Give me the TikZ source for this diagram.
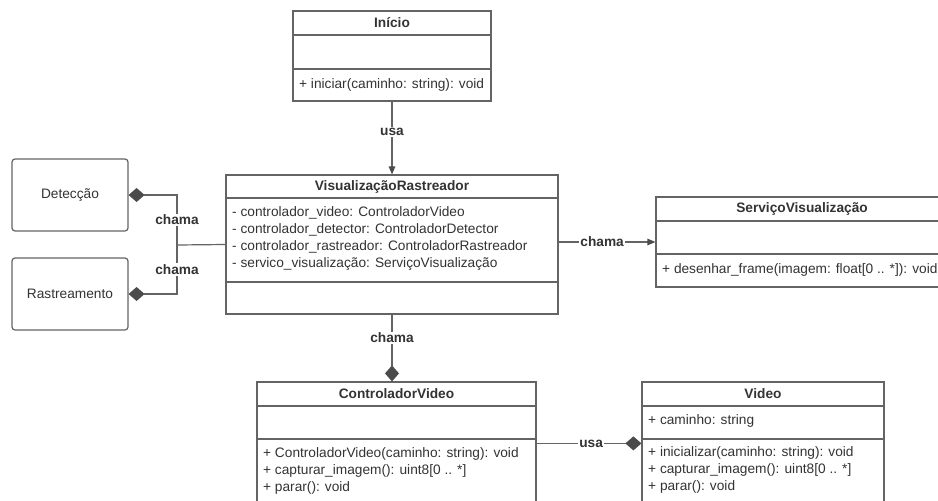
\documentclass[tikz,border=0pt]{standalone}
\usepackage{fontspec}
\setmainfont{Liberation Sans}
\usetikzlibrary{arrows.meta,calc}
\definecolor{edge}{RGB}{100,100,100}
\definecolor{ink}{RGB}{51,51,51}
\definecolor{tipfill}{RGB}{75,75,75}
\tikzset{
  every node/.style={font=\fontsize{13.7}{17}\selectfont, text=ink},
  classbox/.style={draw=edge, line width=1.2pt, fill=white, inner sep=0pt},
  plainbox/.style={draw=edge, line width=1.2pt, rounded corners=3pt, fill=white,
    inner sep=0pt, minimum width=116pt, minimum height=72pt},
  divider/.style={draw=edge, line width=1.2pt},
  title/.style={font=\bfseries\fontsize{13.7}{17}\selectfont, inner sep=0pt},
  member/.style={anchor=west, inner sep=0pt, text height=9.5pt, text depth=2.5pt},
  link/.style={draw=edge, line width=1.2pt},
  lbl/.style={font=\bfseries\fontsize{13.7}{17}\selectfont, fill=white, inner sep=1pt},
  toarrow/.style={link, -{Triangle[length=8pt,width=6.5pt,color=tipfill]}},
  todiamond/.style={link, -{Diamond[length=16pt,width=14pt,color=tipfill]}},
}
\begin{document}
\begin{tikzpicture}[x=1pt,y=-1pt]
\useasboundingbox (0,0) rectangle (938,501);
\clip (0,0) rectangle (938,501);
\fill[white] (0,0) rectangle (938,501);

% ---- Início ----
\node[classbox, minimum width=198pt, minimum height=90pt] (inicio) at (392,56) {};
\draw[divider] (inicio.west |- 0,35) -- (inicio.east |- 0,35);
\draw[divider] (inicio.west |- 0,69) -- (inicio.east |- 0,69);
\node[title] (inicioT) at (392,23) {Início};
\node[member] (inicioM1) at (299,85) {+ iniciar(caminho: string): void};

% ---- VisualizaçãoRastreador ----
\node[classbox, minimum width=332pt, minimum height=139pt] (vr) at (392,244.5) {};
\draw[divider] (vr.west |- 0,198) -- (vr.east |- 0,198);
\draw[divider] (vr.west |- 0,282) -- (vr.east |- 0,282);
\node[title] (vrT) at (392,187) {VisualizaçãoRastreador};
\node[member] (vrA1) at (232,213) {- controlador\_video: ControladorVideo};
\node[member] (vrA2) at (232,230) {- controlador\_detector: ControladorDetector};
\node[member] (vrA3) at (232,247) {- controlador\_rastreador: ControladorRastreador};
\node[member] (vrA4) at (232,264) {- servico\_visualização: ServiçoVisualização};

% ---- ServiçoVisualização ----
\node[classbox, minimum width=292pt, minimum height=90pt] (sv) at (802,242) {};
\draw[divider] (sv.west |- 0,221) -- (sv.east |- 0,221);
\draw[divider] (sv.west |- 0,254) -- (sv.east |- 0,254);
\node[title] (svT) at (802,209) {ServiçoVisualização};
\node[member] (svM1) at (662,270) {+ desenhar\_frame(imagem: float[0 .. *]): void};

% ---- ControladorVideo ----
\node[classbox, minimum width=279pt, minimum height=138pt] (cv) at (396.5,451) {};
\draw[divider] (cv.west |- 0,406) -- (cv.east |- 0,406);
\draw[divider] (cv.west |- 0,439) -- (cv.east |- 0,439);
\node[title] (cvT) at (396.5,394) {ControladorVideo};
\node[member] (cvM1) at (263,454) {+ ControladorVideo(caminho: string): void};
\node[member] (cvM2) at (263,471) {+ capturar\_imagem(): uint8[0 .. *]};
\node[member] (cvM3) at (263,488) {+ parar(): void};

% ---- Video ----
\node[classbox, minimum width=242pt, minimum height=138pt] (video) at (763,451) {};
\draw[divider] (video.west |- 0,406) -- (video.east |- 0,406);
\draw[divider] (video.west |- 0,439) -- (video.east |- 0,439);
\node[title] (videoT) at (763,394) {Video};
\node[member] (videoA1) at (648,421) {+ caminho: string};
\node[member] (videoM1) at (648,453) {+ inicializar(caminho: string): void};
\node[member] (videoM2) at (648,470) {+ capturar\_imagem(): uint8[0 .. *]};
\node[member] (videoM3) at (648,487) {+ parar(): void};

% ---- plain boxes ----
\node[plainbox] (det) at (70,195) {Detecção};
\node[plainbox] (ras) at (70,294) {Rastreamento};

% ---- connectors ----
\draw[toarrow] (inicio.south) -- node[lbl, pos=0.42] {usa} (vr.north);

\coordinate (jn) at (177,245);
\draw[link] (vr.west) -- (jn);
\draw[todiamond] (jn) |- node[lbl, pos=0.25] {chama} (det.east);
\draw[todiamond] (jn) |- node[lbl, pos=0.25] {chama} (ras.east);

\draw[toarrow] (sv.west -| vr.east) -- node[lbl, pos=0.45] {chama} (sv.west);

\draw[todiamond] (vr.south) -- node[lbl, pos=0.35] {chama} (vr.south |- cv.north);

\draw[todiamond] ([yshift=-62pt]cv.north east) -- node[lbl, pos=0.52] {usa} ([yshift=-62pt]video.north west);
\end{tikzpicture}
\end{document}
